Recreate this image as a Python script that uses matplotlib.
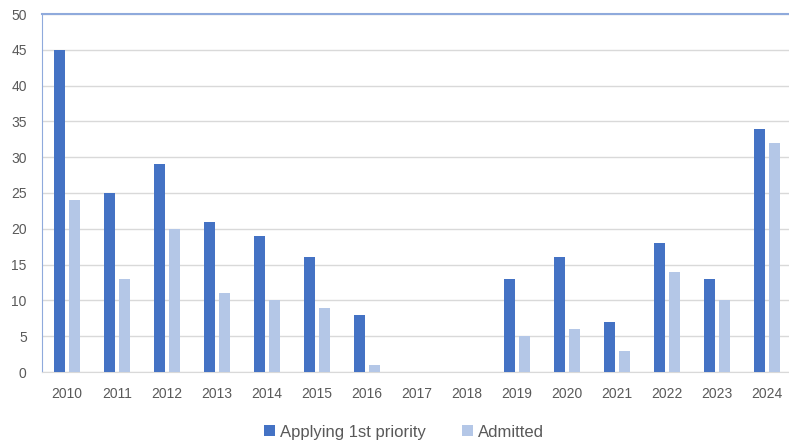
import numpy as np
import matplotlib.pyplot as plt

plt.rcParams["font.family"] = ["Liberation Sans", "DejaVu Sans"]

years = ["2010", "2011", "2012", "2013", "2014", "2015", "2016", "2017",
         "2018", "2019", "2020", "2021", "2022", "2023", "2024"]
applying = [45, 25, 29, 21, 19, 16, 8, 0, 0, 13, 16, 7, 18, 13, 34]
admitted = [24, 13, 20, 11, 10, 9, 1, 0, 0, 5, 6, 3, 14, 10, 32]

dark = "#4472C4"
light = "#B4C7E7"
grey = "#595959"

fig = plt.figure(figsize=(7.89, 4.44), dpi=100)
ax = fig.add_axes([42 / 789, 1 - 372 / 444, 750 / 789, 358 / 444])

x = np.arange(len(years))
w = 0.22
ax.bar(x - 0.15, applying, w, color=dark, label="Applying 1st priority", zorder=3)
ax.bar(x + 0.15, admitted, w, color=light, label="Admitted", zorder=3)

ax.set_xlim(-0.5, len(years) - 0.5)
ax.set_ylim(0, 50)
ax.set_yticks(range(0, 51, 5))
ax.set_xticks(x)
ax.set_xticklabels(years)
ax.yaxis.grid(True, color="#D9D9D9", linewidth=1, zorder=0)
ax.tick_params(length=0, labelsize=10, colors=grey)
ax.tick_params(axis="x", pad=11)
ax.tick_params(axis="y", pad=11)

ax.spines["left"].set_color("#8FAADC")
ax.spines["top"].set_color("#8FAADC")
ax.spines["top"].set_linewidth(1.5)
ax.spines["right"].set_visible(False)
ax.spines["bottom"].set_color("#D9D9D9")

fig.legend(loc="center", bbox_to_anchor=(0.512, 1 - 432 / 444), ncol=2,
           frameon=False, fontsize=12, handlelength=0.65, handleheight=0.65,
           handletextpad=0.3, columnspacing=2.2, labelcolor=grey)

fig.savefig("out.png", dpi=100)
